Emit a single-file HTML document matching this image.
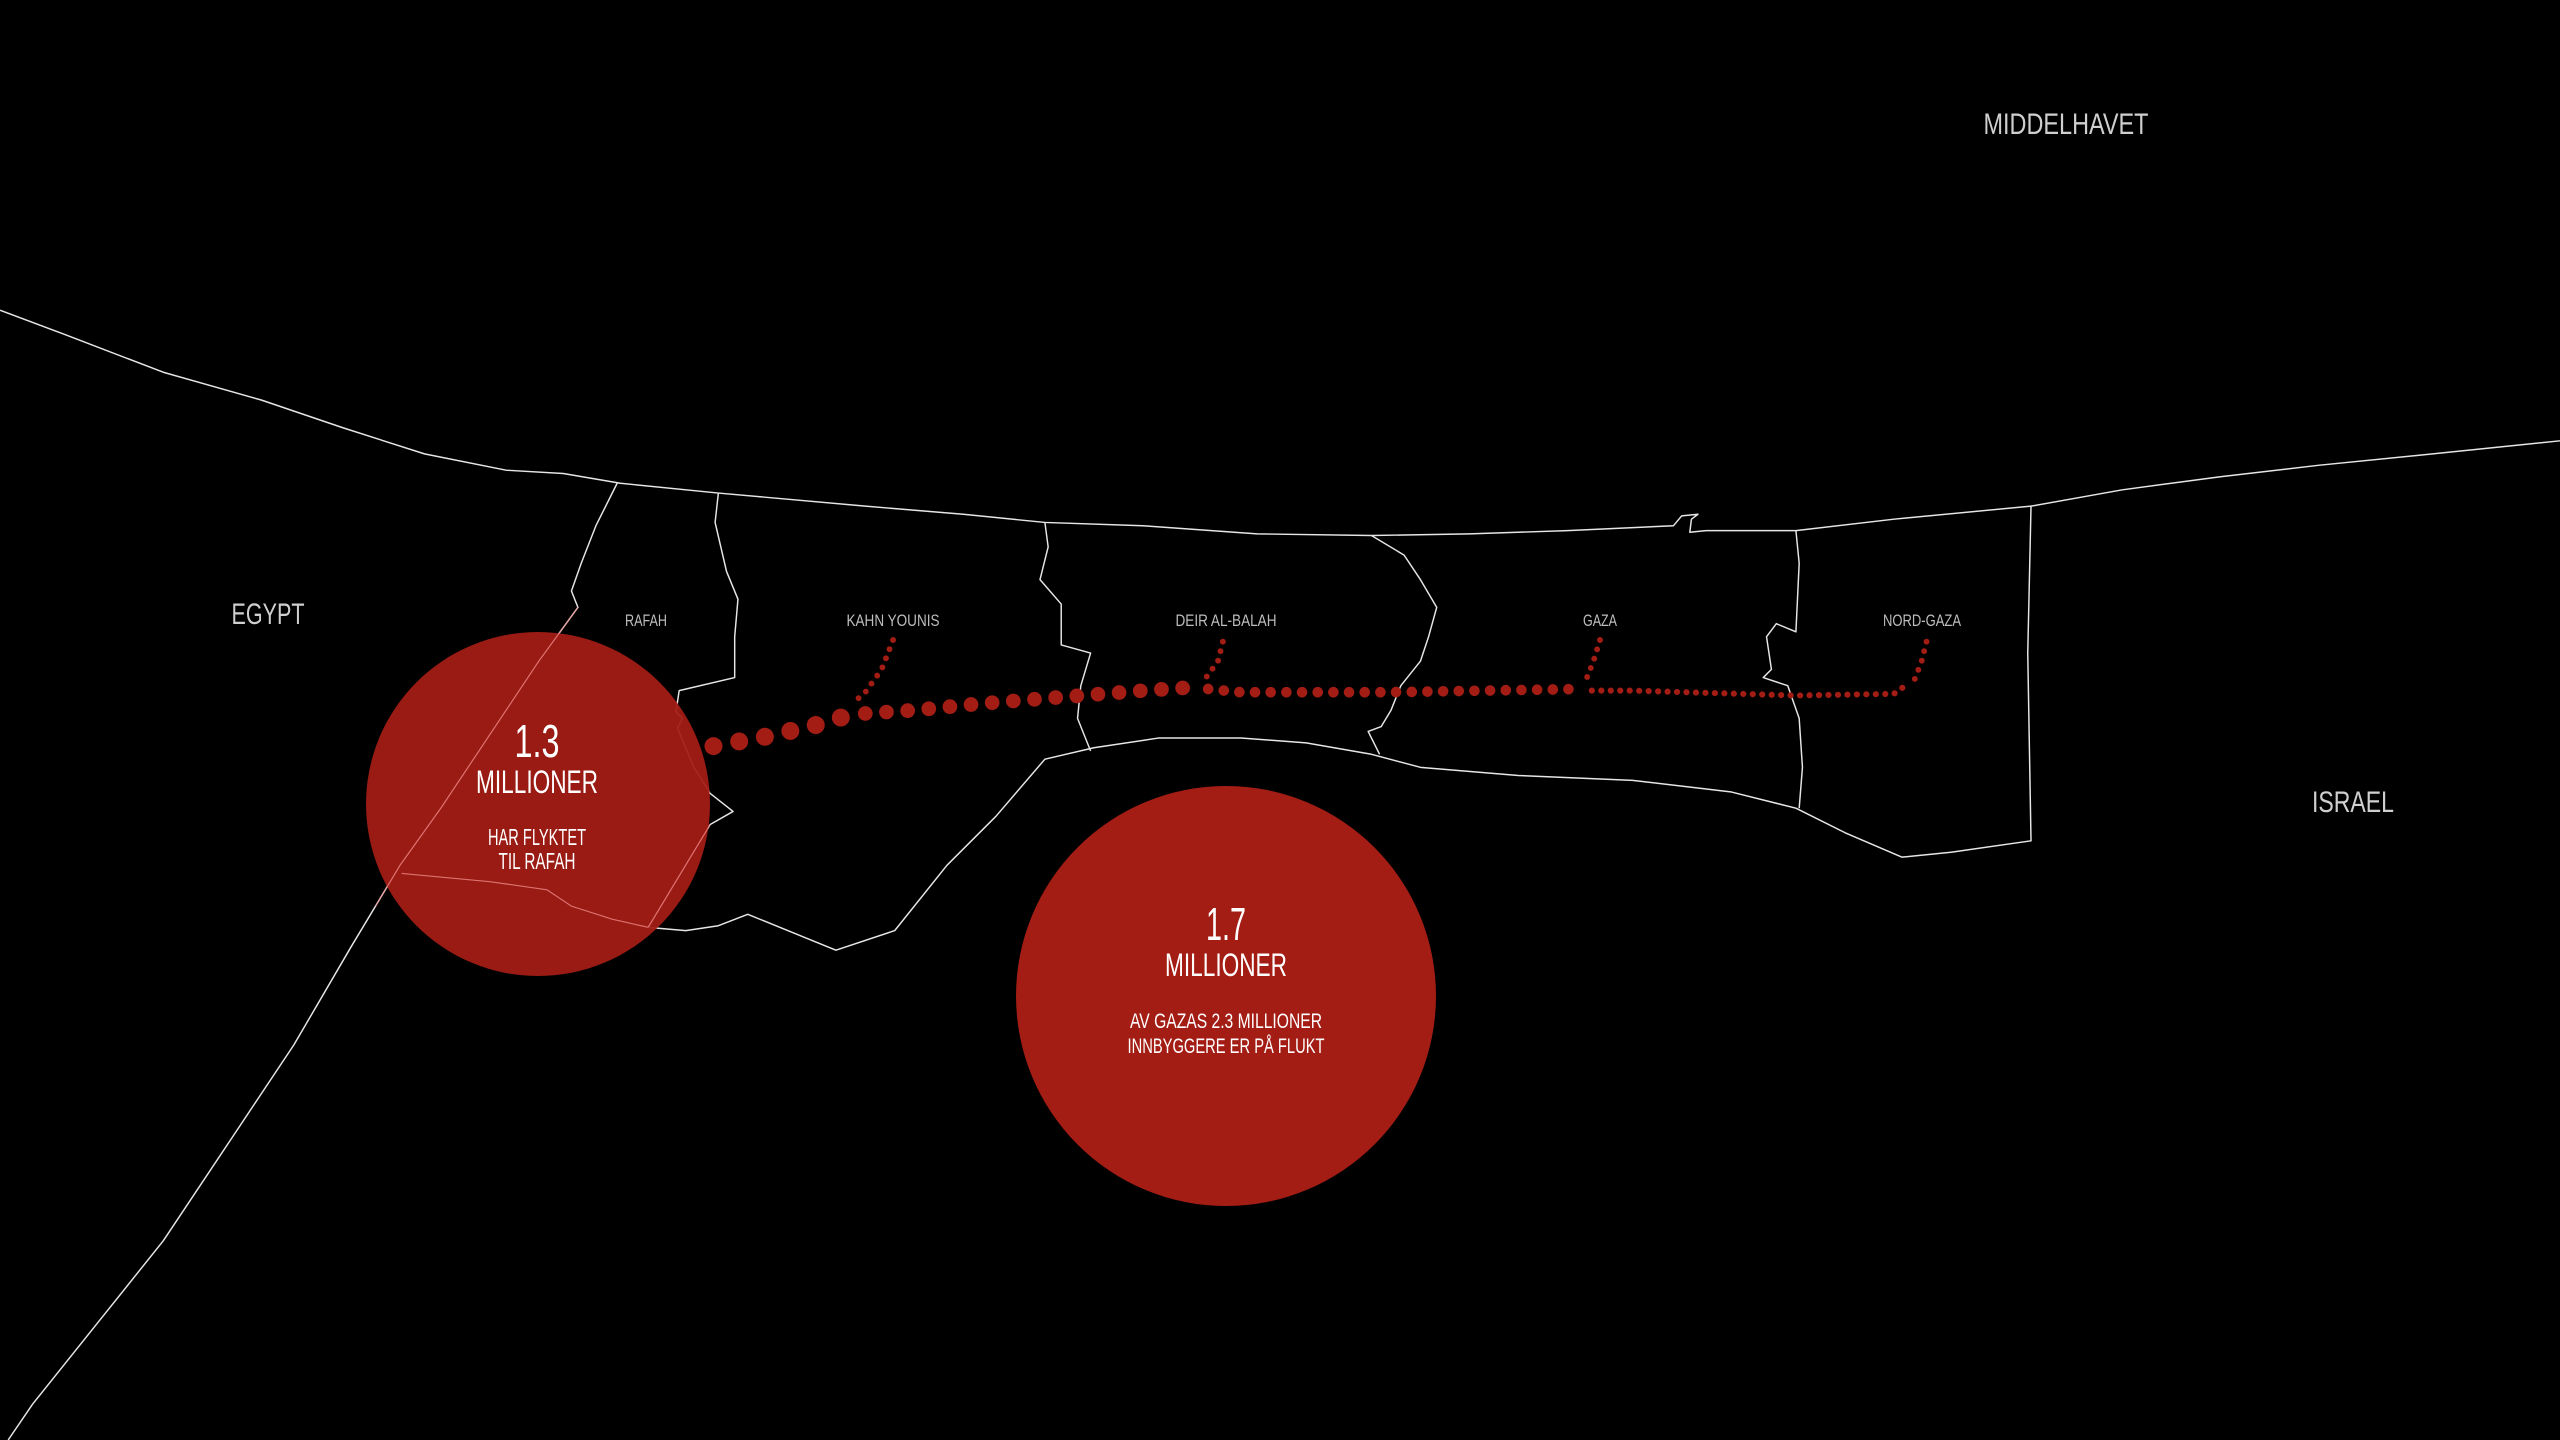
<!DOCTYPE html>
<html><head><meta charset="utf-8"><style>
html,body{margin:0;padding:0;background:#000;width:2560px;height:1440px;overflow:hidden}
svg{display:block}
text{font-family:"Liberation Sans Narrow","Liberation Sans",sans-serif;text-anchor:middle}
</style></head><body>
<svg width="2560" height="1440" viewBox="0 0 2560 1440" xmlns="http://www.w3.org/2000/svg">
<rect width="2560" height="1440" fill="#000"/>
<g transform="scale(1.63265)" fill="none" stroke="#e6e6e6" stroke-width="0.9" stroke-linejoin="round">
<!-- coast -->
<path d="M0,190 L40,205 L100,228 L160,245 L210,262 L260,278 L310,288 L345,290 L380,296 L440,302 L530,310 L590,315 L640,320 L700,322 L770,327 L840,328 L900,327 L960,325 L1025,322 L1030,316 L1040,315 L1036,318 L1035,326 L1045,325 L1100,325 L1160,318 L1244,310 L1300,300 L1360,292 L1420,285 L1490,278 L1568,270"/>
<!-- egypt border -->
<path d="M378,296 L365,322 L356,345 L350,362 L354,372 L330,405 L300,450 L270,495 L245,530 L230,555 L215,580 L180,640 L140,700 L100,760 L60,810 L20,860 L5,882"/>
<!-- gaza south boundary -->
<path d="M440,302 L438,320 L445,350 L452,367 L450,390 L450,415 L416,423 L414,436 L418,440 L415,446 L425,470 L435,486 L449,497 L435,505 L397,568 L420,570 L440,567 L458,560 L512,582 L548,570 L580,530 L610,500 L640,465 L670,458 L710,452 L760,452 L800,455 L840,462 L870,470 L930,475 L1000,478 L1060,485 L1100,495 L1130,510 L1165,525 L1195,522 L1244,515 L1242,400 L1244,310"/>
<!-- internal borders -->
<path d="M640,320 L642,335 L637,355 L650,370 L650,395 L668,400 L662,420 L660,440 L668,460"/>
<path d="M840,328 L860,340 L870,355 L880,372 L875,390 L870,405 L858,420 L852,435 L846,445 L838,448 L845,462"/>
<path d="M1100,325 L1102,345 L1100,387 L1088,382 L1082,390 L1085,410 L1080,415 L1095,420 L1102,440 L1104,470 L1102,495"/>
</g>
<!-- circles -->
<circle cx="538" cy="804" r="172" fill="#a31d15" fill-opacity="0.94"/>
<g transform="scale(1.63265)" fill="none" stroke="#e88" stroke-width="0.7" opacity="0.8">
<path d="M246,535 L300,540 L335,545 L350,555 L375,563 L397,568"/>
<path d="M354,372 L330,405 L300,450 L270,495 L245,530 L230,555"/>
<path d="M435,505 L397,568"/>
</g>
<circle cx="1226" cy="996" r="210" fill="#a31d15"/>
<!-- dots -->
<g transform="scale(1.63265)" fill="none" stroke="#a31d15" stroke-linecap="round">
<path d="M437,457 L470,451 L500,444 L520,438" stroke-width="11" stroke-dasharray="0 16"/>
<path d="M530,437 L560,435 L600,431 L650,427 L700,423 L730,421" stroke-width="9" stroke-dasharray="0 13"/>
<path d="M740,422 L760,424 L850,424 L968,422" stroke-width="6.5" stroke-dasharray="0 9.6"/>
<path d="M975,423 L1000,423 L1100,426 L1160,425 L1167,420" stroke-width="3.8" stroke-dasharray="0 5.8"/>
<path d="M547,392 L540,410 L530,424 L522,431" stroke-width="3.6" stroke-dasharray="0 6"/>
<path d="M749,393 L746,405 L738,416" stroke-width="3.6" stroke-dasharray="0 6"/>
<path d="M980,392 L976,405 L970,420" stroke-width="3.6" stroke-dasharray="0 6"/>
<path d="M1180,393 L1177,405 L1172,418" stroke-width="3.6" stroke-dasharray="0 6"/>
</g>
<!-- labels -->
<g fill="#cfcfcf">
<text x="2066" y="134" font-size="30" textLength="165" lengthAdjust="spacingAndGlyphs">MIDDELHAVET</text>
<text x="268" y="624" font-size="30" textLength="73" lengthAdjust="spacingAndGlyphs">EGYPT</text>
<text x="2353" y="812" font-size="30" textLength="82" lengthAdjust="spacingAndGlyphs">ISRAEL</text>
</g>
<g fill="#bdbdbd" font-size="17">
<text x="646" y="626" textLength="42" lengthAdjust="spacingAndGlyphs">RAFAH</text>
<text x="893" y="626" textLength="93" lengthAdjust="spacingAndGlyphs">KAHN YOUNIS</text>
<text x="1226" y="626" textLength="101" lengthAdjust="spacingAndGlyphs">DEIR AL-BALAH</text>
<text x="1600" y="626" textLength="34" lengthAdjust="spacingAndGlyphs">GAZA</text>
<text x="1922" y="626" textLength="78" lengthAdjust="spacingAndGlyphs">NORD-GAZA</text>
</g>
<g fill="#fff">
<text x="537" y="757" font-size="46" textLength="45" lengthAdjust="spacingAndGlyphs">1.3</text>
<text x="537" y="793" font-size="32" textLength="122" lengthAdjust="spacingAndGlyphs">MILLIONER</text>
<text x="537" y="845" font-size="23" textLength="98" lengthAdjust="spacingAndGlyphs">HAR FLYKTET</text>
<text x="537" y="869" font-size="23" textLength="77" lengthAdjust="spacingAndGlyphs">TIL RAFAH</text>
<text x="1226" y="940" font-size="46" textLength="40" lengthAdjust="spacingAndGlyphs">1.7</text>
<text x="1226" y="976" font-size="32" textLength="122" lengthAdjust="spacingAndGlyphs">MILLIONER</text>
<text x="1226" y="1028" font-size="21" textLength="192" lengthAdjust="spacingAndGlyphs">AV GAZAS 2.3 MILLIONER</text>
<text x="1226" y="1053" font-size="21" textLength="197" lengthAdjust="spacingAndGlyphs">INNBYGGERE ER PÅ FLUKT</text>
</g>
</svg>
</body></html>
